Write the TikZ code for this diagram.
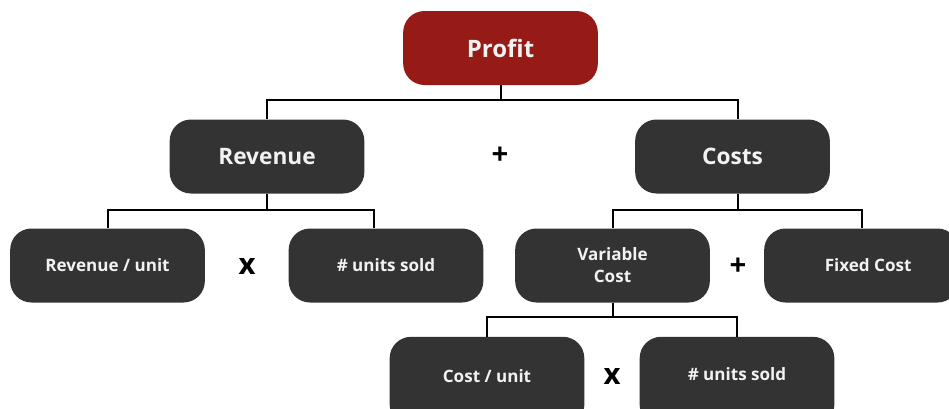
\documentclass[tikz,border=0pt]{standalone}
\usepackage{fontspec}
\setmainfont{Open Sans}
\usepackage{xcolor}

\definecolor{profitred}{HTML}{961A15}
\definecolor{boxgrey}{HTML}{333333}
\definecolor{boxtext}{HTML}{F2F2F2}

\begin{document}
\begin{tikzpicture}[x=0.75pt, y=-0.75pt,
  box/.style={rectangle, rounded corners=16pt, fill=boxgrey, text=boxtext,
              minimum width=146pt, minimum height=55.5pt, align=center,
              font=\fontsize{12.8}{16.5}\selectfont\bfseries},
  groupbox/.style={box, font=\fontsize{17}{22}\selectfont\bfseries},
  rootbox/.style={groupbox, fill=profitred, font=\fontsize{18}{22}\selectfont\bfseries},
  lowbox/.style={box, minimum height=67pt},
  link/.style={line width=1.5pt, black},
  op/.style={font=\fontsize{22}{24}\selectfont\bfseries}
]
\clip (0,0) rectangle (949,408);

% top level
\node[rootbox] (profit) at (500.5, 48) {Profit};

% revenue / costs
\node[groupbox] (revenue) at (267, 156.5) {Revenue};
\node[groupbox] (costs) at (732.5, 156.5) {Costs};
\node[op] (plusrc) at (500, 156) {+};

% revenue split
\node[box] (revunit) at (107.5, 265.5) {Revenue / unit};
\node[box] (soldrev) at (386, 265.5) {\# units sold};
\node[op] (timesrev) at (247, 266) {x};

% costs split
\node[box] (varcost) at (612.5, 265.5) {Variable\\Cost};
\node[box] (fixcost) at (861.5, 265.5) {\hspace*{10pt}Fixed Cost};
\node[op] (plusvf) at (738, 267) {+};

% variable cost split (runs off the bottom edge)
\node[lowbox] (costunit) at (487, 381.5) {\raisebox{8pt}{Cost / unit}};
\node[lowbox] (soldvar) at (737, 381.5) {\raisebox{11pt}{\# units sold}};
\node[op] (timesvar) at (612, 376) {x};

% tree lines
\draw[link] (profit.south) -- ++(0,15) -| (revenue.north);
\draw[link] (profit.south) -- ++(0,15) -| ([xshift=4pt]costs.north);
\draw[link] (revenue.south) -- ++(0,16) -| (revunit.north);
\draw[link] (revenue.south) -- ++(0,16) -| ([xshift=-9pt]soldrev.north);
\draw[link] ([xshift=4pt]costs.south) -- ++(0,16) -| (varcost.north);
\draw[link] ([xshift=4pt]costs.south) -- ++(0,16) -| (fixcost.north);
\draw[link] (varcost.south) -- ++(0,14) -| (costunit.north);
\draw[link] (varcost.south) -- ++(0,14) -| (soldvar.north);
\end{tikzpicture}
\end{document}
